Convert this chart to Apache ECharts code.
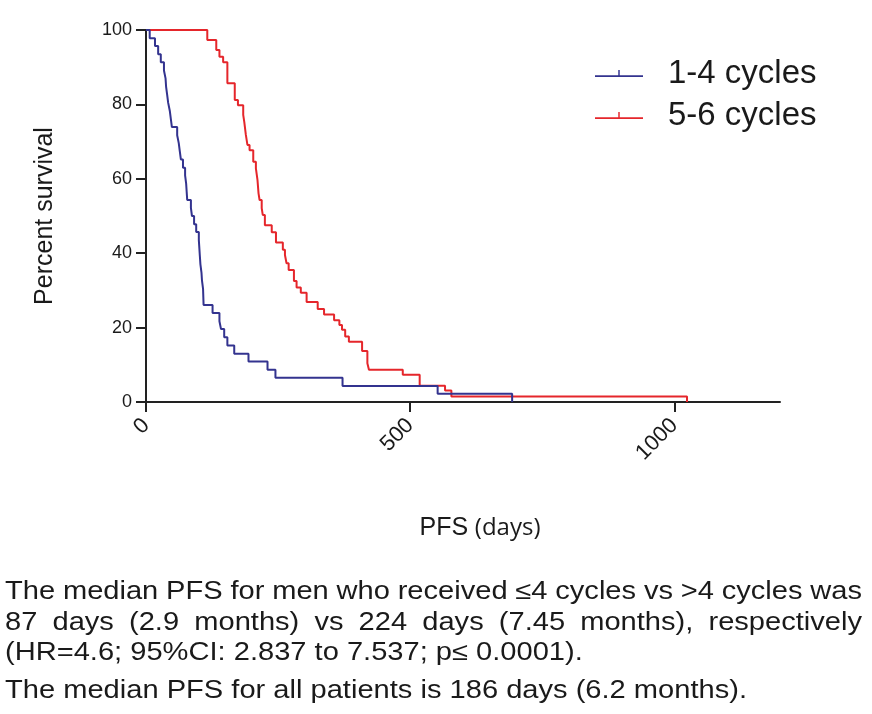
<!DOCTYPE html>
<html><head><meta charset="utf-8">
<script src="https://cdn.jsdelivr.net/npm/echarts@6/dist/echarts.min.js"></script>
<style>html,body{margin:0;padding:0;background:#fff}#c{width:872px;height:714px}</style>
</head><body><div id="c"></div>
<script>
// ---- data ----
const seriesNames = ['1-4 cycles', '5-6 cycles'];
const blueDays = [0, 7, 17, 23, 28, 34, 37, 38, 40, 42, 45, 47, 49, 59, 62, 64, 66, 70, 74, 76, 77, 78, 85, 87, 91, 95, 100, 101, 102, 103, 105, 106, 108, 109, 126, 139, 142, 148, 154, 167, 194, 230, 245, 372, 552, 693];
const bluePct  = [100, 97.8, 95.7, 93.5, 91.3, 89.1, 87.0, 84.8, 82.6, 80.4, 78.3, 76.1, 73.9, 71.7, 69.6, 67.4, 65.2, 63.0, 60.9, 58.7, 56.5, 54.3, 52.2, 50.0, 47.8, 45.7, 43.5, 41.3, 39.1, 37.0, 34.8, 32.6, 30.4, 26.1, 23.9, 21.7, 19.6, 17.4, 15.2, 13.0, 10.9, 8.7, 6.5, 4.3, 2.2, 0];
const redDays = [0, 116, 133, 139, 146, 154, 168, 174, 184, 186, 189, 192, 196, 203, 208, 211, 213, 215, 219, 221, 225, 238, 246, 259, 263, 266, 270, 280, 285, 293, 304, 325, 337, 356, 366, 371, 377, 384, 409, 419, 422, 486, 518, 566, 578, 1024];
const redPct  = [100, 97.3, 94.6, 92.8, 91.3, 85.7, 81.2, 79.8, 77.2, 75.3, 71.8, 69.1, 67.7, 64.6, 62.8, 59.7, 56.1, 54.3, 52.1, 50.3, 47.5, 45.6, 42.9, 40.9, 39.5, 37.3, 35.5, 32.5, 30.8, 29.4, 26.9, 25.0, 23.5, 22.0, 20.7, 19.4, 17.6, 16.2, 13.7, 10.4, 8.7, 7.3, 4.4, 3.1, 1.5, 0];
const xTicks = [0, 500, 1000];
const yTicks = [0, 20, 40, 60, 80, 100];
const xName = ['PFS', '(days)'];
const yName = 'Percent survival';
const captionLines = [
  'The median PFS for men who received \u22644 cycles vs >4 cycles was',
  '87 days (2.9 months) vs 224 days (7.45 months), respectively',
  '(HR=4.6; 95%CI: 2.837 to 7.537; p\u2264 0.0001).',
  'The median PFS for all patients is 186 days (6.2 months).'
];
const justified = [true, true, false, false];

// ---- styles ----
const BLUE = '#33338f', RED = '#e5262b', INK = '#1a1a1a';
const FONT = '"Liberation Sans", Arial, sans-serif';
const tickIcon = 'path://M0,5L46,5L46,6.6L0,6.6Z M22.3,0L23.7,0L23.7,5L22.3,5Z';

function pairs(xs, ys) { return xs.map((x, i) => [x, ys[i]]); }

// caption layout
const capSize = 25;
const ctx = document.createElement('canvas').getContext('2d');
ctx.font = capSize + 'px "Liberation Sans"';
const mw = s => ctx.measureText(s).width;
const sx = 742 / mw(captionLines[3]);
const lineY = [592, 623, 653, 691];
const left = 5, right = 862;
const graphics = [];
captionLines.forEach((line, i) => {
  if (justified[i]) {
    const words = line.split(' ');
    const total = words.reduce((a, wd) => a + mw(wd) * sx, 0);
    const gap = (right - left - total) / (words.length - 1);
    let x = left;
    words.forEach(wd => {
      graphics.push({type: 'text', x: x, y: lineY[i], scaleX: sx,
        style: {text: wd, font: capSize + 'px "Liberation Sans"', fill: INK, verticalAlign: 'middle', align: 'left'}});
      x += mw(wd) * sx + gap;
    });
  } else {
    graphics.push({type: 'text', x: left, y: lineY[i], scaleX: sx,
      style: {text: line, font: capSize + 'px "Liberation Sans"', fill: INK, verticalAlign: 'middle', align: 'left'}});
  }
});

const chart = echarts.init(document.getElementById('c'), null, {renderer: 'canvas'});
chart.setOption({
  animation: false,
  backgroundColor: '#fff',
  grid: {left: 146, right: 92, top: 30, bottom: 312},
  legend: {
    orient: 'vertical', left: 590, top: 52, itemWidth: 48, itemHeight: 7, itemGap: 9,
    textStyle: {fontFamily: FONT, fontSize: 33, color: INK, padding: [0, 0, 0, 20]},
    data: seriesNames.map(n => ({name: n, icon: tickIcon}))
  },
  xAxis: {
    type: 'value', min: 0, max: 1200, interval: 500,
    name: '{a|' + xName[0] + '}  {b|' + xName[1] + '}', nameLocation: 'middle', nameGap: 114,
    nameTextStyle: {padding: [0, 0, 0, 34], rich: {
      a: {fontFamily: FONT, fontSize: 25, color: INK},
      b: {fontFamily: '"Open Sans", sans-serif', fontSize: 24, color: INK}}},
    axisLine: {lineStyle: {color: '#222', width: 2}},
    axisTick: {customValues: xTicks, length: 10, lineStyle: {color: '#222', width: 2}},
    axisLabel: {customValues: xTicks, rotate: 45, fontFamily: FONT, fontSize: 22, color: INK, margin: 20,
      formatter: v => String(v)},
    splitLine: {show: false}
  },
  yAxis: {
    type: 'value', min: 0, max: 100, interval: 20,
    name: yName, nameLocation: 'middle', nameGap: 88,
    nameTextStyle: {fontFamily: FONT, fontSize: 25, color: INK},
    axisLine: {show: true, lineStyle: {color: '#222', width: 2}},
    axisTick: {show: true, length: 10, lineStyle: {color: '#222', width: 2}},
    axisLabel: {fontFamily: FONT, fontSize: 18, color: INK, margin: 14},
    splitLine: {show: false}
  },
  series: [
    {name: seriesNames[0], type: 'line', step: 'end', showSymbol: false, data: pairs(blueDays, bluePct),
     itemStyle: {color: BLUE}, lineStyle: {color: BLUE, width: 2}, z: 3},
    {name: seriesNames[1], type: 'line', step: 'end', showSymbol: false, data: pairs(redDays, redPct),
     itemStyle: {color: RED}, lineStyle: {color: RED, width: 2}, z: 2}
  ],
  graphic: graphics
});
</script>
</body></html>
